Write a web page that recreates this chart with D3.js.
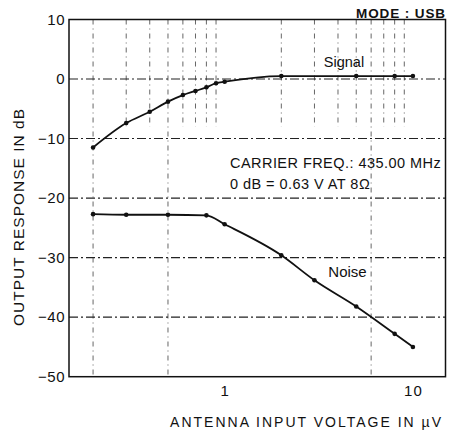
<!DOCTYPE html>
<html>
<head>
<meta charset="utf-8">
<script src="https://cdn.jsdelivr.net/npm/d3@7"></script>
<style>
  html, body { margin: 0; padding: 0; background: #fff; }
  svg { display: block; }
  text { font-family: "Liberation Sans", Arial, Helvetica, sans-serif; fill: #111; }
</style>
</head>
<body>
<svg id="chart" width="450" height="437"></svg>
<script>
// Antenna input voltage (µV) and output response (dB)
const signalVoltage = [0.2, 0.3, 0.4, 0.5, 0.6, 0.7, 0.8, 0.9, 1.0, 2, 5, 8, 10];
const signalDb      = [-11.5, -7.4, -5.5, -3.8, -2.7, -2.0, -1.4, -0.7, -0.45, 0.5, 0.5, 0.5, 0.5];

const noiseVoltage = [0.2, 0.3, 0.5, 0.8, 1.0, 2, 3, 5, 8, 10];
const noiseDb      = [-22.7, -22.8, -22.8, -22.9, -24.4, -29.6, -33.8, -38.2, -42.8, -45.0];

const yTicks = [10, 0, -10, -20, -30, -40, -50];
const xTickValues = [1, 10];
const xTickLabels = ["1", "10"];
// minor log positions used for the vertical rulings
const xGridValues = [0.2, 0.3, 0.4, 0.5, 0.6, 0.7, 0.8, 0.9, 2, 3, 4, 5, 6, 7, 8, 9];
const xGridFull = [0.2, 0.5, 6];

const svg = d3.select("#chart");
const plot = { left: 69, right: 445.5, top: 19.5, bottom: 376.7 };

const x = d3.scaleLog().domain([0.149, 14.9]).range([plot.left, plot.right]);
const y = d3.scaleLinear().domain([-50, 10]).range([plot.bottom, plot.top]);

// vertical rulings: dashed, mostly in the upper band
const g = svg.append("g");
g.selectAll("line.vgrid")
  .data(xGridValues)
  .join("line")
  .attr("x1", d => x(d)).attr("x2", d => x(d))
  .attr("y1", y(10))
  .attr("y2", d => xGridFull.includes(d) ? y(-50) : y(-8))
  .attr("stroke", "#555")
  .attr("stroke-width", 0.9)
  .attr("stroke-dasharray", "5,4,1,4");

// horizontal rulings: dash-dot
g.selectAll("line.hgrid")
  .data(yTicks.filter(d => d > -50 && d < 10))
  .join("line")
  .attr("x1", plot.left).attr("x2", plot.right)
  .attr("y1", d => y(d)).attr("y2", d => y(d))
  .attr("stroke", "#222")
  .attr("stroke-width", 1.1)
  .attr("stroke-dasharray", "9,3,2,3");

// frame
svg.append("rect")
  .attr("x", plot.left).attr("y", plot.top)
  .attr("width", plot.right - plot.left).attr("height", plot.bottom - plot.top)
  .attr("fill", "none").attr("stroke", "#111").attr("stroke-width", 1.5);

// y axis labels
const yAxis = d3.axisLeft(y).tickValues(yTicks).tickSize(0).tickPadding(4)
  .tickFormat(d => d < 0 ? "\u2212" + Math.abs(d) : String(d));
svg.append("g").attr("transform", `translate(${plot.left},0)`).call(yAxis)
  .call(a => a.select(".domain").remove())
  .selectAll("text").attr("font-size", 15).style("letter-spacing", "0.5px")
  .style("font-family", "Liberation Sans, Arial, sans-serif").attr("fill", "#111");

// x axis labels
const xAxis = d3.axisBottom(x).tickValues(xTickValues).tickSize(0).tickPadding(9)
  .tickFormat((d, i) => xTickLabels[i]);
svg.append("g").attr("transform", `translate(0,${plot.bottom})`).call(xAxis)
  .call(a => a.select(".domain").remove())
  .selectAll("text").attr("font-size", 15).style("letter-spacing", "1px")
  .style("font-family", "Liberation Sans, Arial, sans-serif").attr("fill", "#111");

// curves
const line = d3.line().x(d => x(d[0])).y(d => y(d[1])).curve(d3.curveMonotoneX);
const signal = signalVoltage.map((v, i) => [v, signalDb[i]]);
const noise = noiseVoltage.map((v, i) => [v, noiseDb[i]]);

[signal, noise].forEach(series => {
  svg.append("path").datum(series)
    .attr("d", line)
    .attr("fill", "none").attr("stroke", "#111").attr("stroke-width", 1.8);
  svg.append("g").selectAll("circle").data(series).join("circle")
    .attr("cx", d => x(d[0])).attr("cy", d => y(d[1]))
    .attr("r", 2.3).attr("fill", "#111");
});

// annotations
svg.append("text").attr("x", 446).attr("y", 18).attr("text-anchor", "end")
  .attr("font-size", 13.5).attr("font-weight", "bold").style("letter-spacing", "0.9px")
  .text("MODE : USB");
svg.append("text").attr("x", 344).attr("y", 67).attr("text-anchor", "middle")
  .attr("font-size", 14.5).text("Signal");
svg.append("text").attr("x", 347.5).attr("y", 277).attr("text-anchor", "middle")
  .attr("font-size", 15).text("Noise");
svg.append("text").attr("x", 230).attr("y", 168)
  .attr("font-size", 14.5).style("letter-spacing", "0.45px")
  .text("CARRIER FREQ.: 435.00 MHz");
svg.append("text").attr("x", 230).attr("y", 189)
  .attr("font-size", 14.5).style("letter-spacing", "0.45px")
  .text("0 dB = 0.63 V AT 8\u03A9");

// axis titles
svg.append("text")
  .attr("transform", "translate(24,217) rotate(-90)")
  .attr("text-anchor", "middle").attr("font-size", 15.5).style("letter-spacing", "1px")
  .text("OUTPUT RESPONSE IN dB");
svg.append("text").attr("x", 443).attr("y", 427).attr("text-anchor", "end")
  .attr("font-size", 14).style("letter-spacing", "2px")
  .text("ANTENNA INPUT VOLTAGE IN \u00B5V");
</script>
</body>
</html>
